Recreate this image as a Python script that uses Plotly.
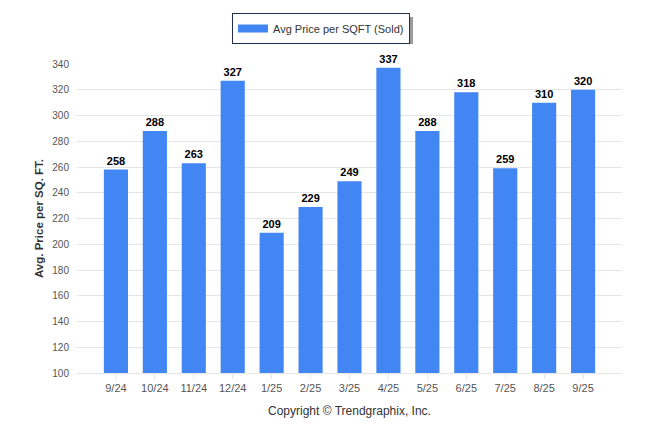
import plotly.graph_objects as go

months = ["9/24", "10/24", "11/24", "12/24", "1/25", "2/25", "3/25",
          "4/25", "5/25", "6/25", "7/25", "8/25", "9/25"]
avg_price_sqft = [258, 288, 263, 327, 209, 229, 249, 337, 288, 318, 259, 310, 320]
y_ticks = list(range(100, 341, 20))
series_name = "Avg Price per SQFT (Sold)"
bar_color = "#4286F4"

fig = go.Figure()
fig.add_trace(go.Bar(
    x=months, y=avg_price_sqft, name=series_name, showlegend=False,
    marker=dict(color=bar_color, line=dict(width=0)),
    width=0.62,
    text=[str(v) for v in avg_price_sqft], textposition="outside",
    textfont=dict(family="Liberation Sans", size=11, color="#000000"),
    texttemplate="<b>%{text}</b>",
    cliponaxis=False,
))
# legend entry (wide rectangle swatch like the reference)
fig.add_trace(go.Scatter(
    x=[None], y=[None], mode="lines", name=series_name,
    line=dict(color=bar_color, width=8), showlegend=True,
))

L, T, W, H = 77, 64, 545, 309

def px(x):
    return (x - L) / W

def py(y):
    return (T + H - y) / H

fig.update_layout(
    width=646, height=434,
    margin=dict(l=L, r=646 - L - W, t=T, b=434 - T - H, autoexpand=False),
    paper_bgcolor="white", plot_bgcolor="white",
    font=dict(family="Liberation Sans", size=11, color="#333333"),
    showlegend=True,
    legend=dict(x=px(232), y=py(13), xanchor="left", yanchor="top",
                bgcolor="white", bordercolor="#1f2f4f", borderwidth=1,
                font=dict(size=11, color="#333333"),
                itemwidth=30, tracegroupgap=0),
    xaxis=dict(range=[-1, 13], showgrid=False, showline=True, linecolor="#e6e6e6",
               ticks="outside", ticklen=5, tickcolor="#e6e6e6",
               tickfont=dict(size=11, color="#555555"), fixedrange=True),
    yaxis=dict(range=[100, 340], tickvals=y_ticks, showgrid=True, gridcolor="#e6e6e6",
               zeroline=False, showline=False, ticklabelstandoff=7,
               tickfont=dict(size=10, color="#555555"),
               title=dict(text="<b>Avg. Price per SQ. FT.</b>",
                          font=dict(size=11.5, color="#333333"), standoff=6)),
    annotations=[dict(text="Copyright © Trendgraphix, Inc.", xref="paper", yref="paper",
                      x=0.5, y=py(402), xanchor="center", yanchor="top", showarrow=False,
                      font=dict(size=12, color="#333333"))],
    shapes=[dict(type="rect", xref="paper", yref="paper",
                 x0=px(236), x1=px(413), y0=py(44), y1=py(17),
                 fillcolor="#9a9a9a", line=dict(width=0), layer="below")],
)

fig.write_html("out.html", config={"displayModeBar": False},
               post_script="document.body.style.margin='0';")
